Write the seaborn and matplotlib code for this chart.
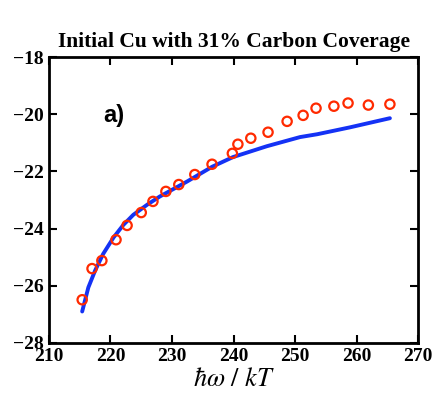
import numpy as np
import pandas as pd
import matplotlib
matplotlib.use("Agg")
import matplotlib.pyplot as plt
import seaborn as sns

# measured points (open circles)
x_pts = [215.4, 217.0, 218.6, 220.9, 222.7, 225.0, 226.9, 229.0, 231.1, 233.7, 236.5,
         239.8, 240.7, 242.8, 245.6, 248.7, 251.3, 253.4, 256.3, 258.6, 261.9, 265.4]
y_pts = [-26.49, -25.40, -25.12, -24.39, -23.89, -23.44, -23.05, -22.70, -22.46, -22.11, -21.75,
         -21.37, -21.05, -20.84, -20.63, -20.25, -20.04, -19.79, -19.72, -19.61, -19.68, -19.65]

# model curve
x_fit = [215.4, 216.4, 217.5, 218.8, 220.5, 222.1, 223.7, 226.0, 228.0, 232.4, 236.5, 239.9,
         245.4, 250.8, 253.6, 258.9, 265.4]
y_fit = [-26.90, -26.06, -25.47, -24.89, -24.31, -23.87, -23.52, -23.16, -22.88, -22.36, -21.84, -21.50,
         -21.12, -20.80, -20.70, -20.46, -20.14]

pts = pd.DataFrame({"x": x_pts, "y": y_pts})
fit = pd.DataFrame({"x": x_fit, "y": y_fit})

sns.set_style("ticks")
plt.rcParams["font.family"] = ["Liberation Serif", "DejaVu Serif"]
plt.rcParams["mathtext.fontset"] = "stix"
for k in ["text.color", "axes.labelcolor", "xtick.color", "ytick.color", "axes.edgecolor"]:
    plt.rcParams[k] = "black"

fig = plt.figure(figsize=(4.37, 3.96), dpi=100)
ax = fig.add_axes([0.112, 0.134, 0.845, 0.722])

sns.lineplot(data=fit, x="x", y="y", ax=ax, color="#1432f5", linewidth=2.8, zorder=2)
sns.scatterplot(data=pts, x="x", y="y", ax=ax, marker="o", s=45,
                facecolor="none", edgecolor="#ff2a00", linewidth=1.6, zorder=3)

ax.set_xlim(210, 270)
ax.set_ylim(-28, -18)
ax.set_xticks(range(210, 271, 10))
ax.set_yticks(range(-28, -17, 2))
ax.tick_params(direction="in", top=True, right=True, length=6, width=1.5, labelsize=14)
ax.tick_params(axis="y", pad=4)
ax.tick_params(axis="x", pad=4)
for lab in ax.get_xticklabels() + ax.get_yticklabels():
    lab.set_fontweight("bold")
for sp in ax.spines.values():
    sp.set_linewidth(2)

ax.set_xlabel(r"$\hbar\omega\ /\ kT$", fontsize=19, labelpad=2)
ax.set_ylabel("")
ax.set_title("Initial Cu with 31% Carbon Coverage", fontsize=15.5, fontweight="bold", pad=7)
ax.text(218.8, -20.05, "a)", fontsize=17, fontweight="bold",
        family=["Liberation Sans", "DejaVu Sans"], ha="left", va="center")

fig.savefig("out.png", dpi=100)
